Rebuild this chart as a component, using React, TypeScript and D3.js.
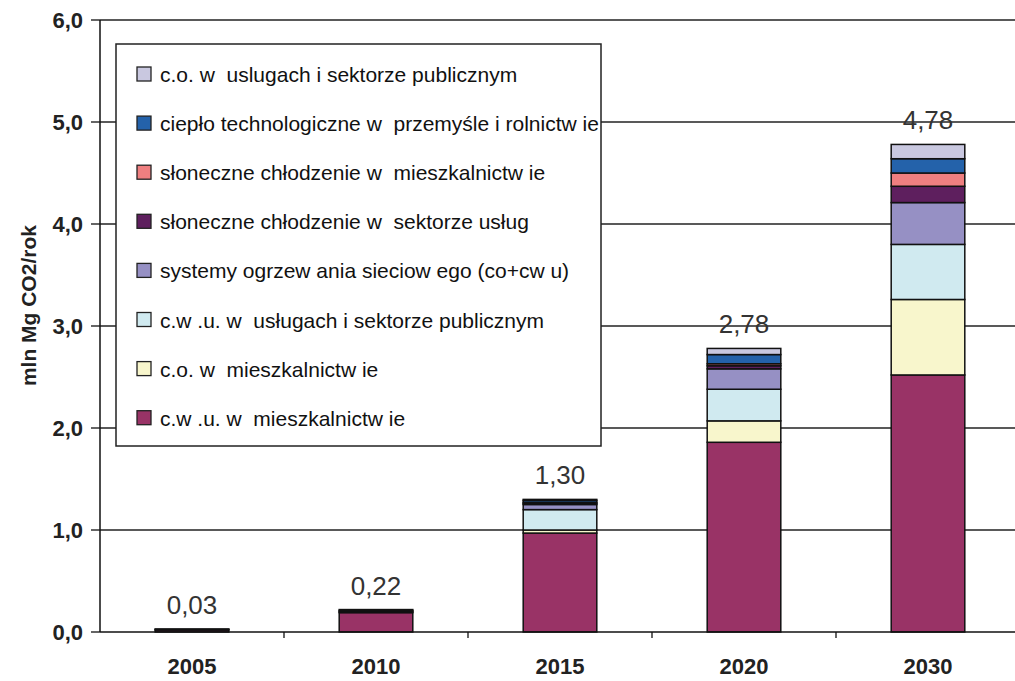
import React from 'react';
import * as d3 from 'd3';

const years = ['2005', '2010', '2015', '2020', '2030'];

// stacked bottom -> top
const seriesNames = [
  'c.w .u. w  mieszkalnictw ie',
  'c.o. w  mieszkalnictw ie',
  'c.w .u. w  usługach i sektorze publicznym',
  'systemy ogrzew ania sieciow ego (co+cw u)',
  'słoneczne chłodzenie w  sektorze usług',
  'słoneczne chłodzenie w  mieszkalnictw ie',
  'ciepło technologiczne w  przemyśle i rolnictw ie',
  'c.o. w  uslugach i sektorze publicznym',
];
const seriesColors = ['#993366', '#f8f6cc', '#d0eaf0', '#9690c4', '#5e1f5e', '#ef7f80', '#2462aa', '#c9c8e0'];

const cwuMieszk = [0.02, 0.19, 0.97, 1.86, 2.52];
const coMieszk = [0.005, 0.01, 0.03, 0.21, 0.74];
const cwuUslugi = [0.005, 0.01, 0.2, 0.31, 0.54];
const systemy = [0, 0.01, 0.05, 0.2, 0.41];
const chlodzUslugi = [0, 0, 0.01, 0.03, 0.16];
const chlodzMieszk = [0, 0, 0.01, 0.02, 0.13];
const cieploTech = [0, 0, 0.02, 0.09, 0.14];
const coUslugi = [0, 0, 0.01, 0.06, 0.14];

const totalLabels = ['0,03', '0,22', '1,30', '2,78', '4,78'];
const yTicks = [0, 1, 2, 3, 4, 5, 6];

const W = 1015;
const H = 681;
const margin = { top: 20, right: -5, bottom: 49, left: 100 };

export default function App() {
  const seriesValues = [cwuMieszk, coMieszk, cwuUslugi, systemy, chlodzUslugi, chlodzMieszk, cieploTech, coUslugi];
  const rows = years.map((y, i) => {
    const r: Record<string, any> = { year: y };
    seriesNames.forEach((s, k) => (r[s] = seriesValues[k][i]));
    return r;
  });
  const stacked = d3.stack<any>().keys(seriesNames)(rows);

  const x = d3.scaleBand().domain(years).range([margin.left, W - margin.right]).paddingInner(0.6).paddingOuter(0.3);
  const y = d3.scaleLinear().domain([0, 6]).range([H - margin.bottom, margin.top]);
  const band = d3.scaleBand().domain(years).range([margin.left, W - margin.right]);
  const totals = years.map((_, i) => d3.sum(seriesValues, (s) => s[i]));

  const font = '"Liberation Sans", Arial, sans-serif';
  const legendX = 116;
  const legendY = 44;
  const legendRow = 49.1;

  return (
    <svg width={W} height={H} style={{ position: 'absolute', left: 0, top: 0, background: '#fff' }} fontFamily={font}>
      {/* gridlines */}
      {yTicks.filter((t) => t > 0).map((t) => (
        <line key={t} x1={margin.left} x2={W} y1={y(t)} y2={y(t)} stroke="#222" strokeWidth={1.3} />
      ))}
      {/* bars */}
      {stacked.map((s, k) => (
        <g key={s.key} fill={seriesColors[k]} stroke="#111" strokeWidth={1.5}>
          {s.map((d, i) =>
            d[1] - d[0] > 0 ? (
              <rect key={i} x={x(years[i])} width={x.bandwidth()} y={y(d[1])} height={y(d[0]) - y(d[1])} />
            ) : null
          )}
        </g>
      ))}
      {/* totals */}
      {years.map((yr, i) => (
        <text key={yr} x={x(yr)! + x.bandwidth() / 2} y={y(totals[i]) - 15} textAnchor="middle" fontSize={26} fill="#333">
          {totalLabels[i]}
        </text>
      ))}
      {/* axes */}
      <line x1={margin.left} x2={margin.left} y1={y(6)} y2={y(0)} stroke="#111" strokeWidth={1.5} />
      <line x1={margin.left} x2={W} y1={y(0)} y2={y(0)} stroke="#111" strokeWidth={1.5} />
      {yTicks.map((t) => (
        <g key={t}>
          <line x1={margin.left - 9} x2={margin.left} y1={y(t)} y2={y(t)} stroke="#111" strokeWidth={1.3} />
          <text x={83} y={y(t) + 8} textAnchor="end" fontSize={22} fontWeight="bold" fill="#222">
            {d3.format('.1f')(t).replace('.', ',')}
          </text>
        </g>
      ))}
      {years.slice(1).map((yr) => (
        <line key={yr} x1={band(yr)} x2={band(yr)} y1={y(0)} y2={y(0) + 6} stroke="#111" strokeWidth={1.3} />
      ))}
      {years.map((yr) => (
        <text key={yr} x={x(yr)! + x.bandwidth() / 2} y={674} textAnchor="middle" fontSize={22} fontWeight="bold" fill="#222">
          {yr}
        </text>
      ))}
      <text transform={`translate(36,${y(3.2)}) rotate(-90)`} textAnchor="middle" fontSize={21} fontWeight="bold" fill="#222">
        mln Mg CO2/rok
      </text>
      {/* legend */}
      <rect x={legendX} y={legendY} width={485} height={402} fill="#fff" stroke="#222" strokeWidth={1.5} />
      {seriesNames.slice().reverse().map((name, j) => {
        const k = seriesNames.length - 1 - j;
        const cy = legendY + 30 + j * legendRow;
        return (
          <g key={name}>
            <rect x={137} y={cy - 7} width={14} height={14} fill={seriesColors[k]} stroke="#222" strokeWidth={1.3} />
            <text x={160} y={cy + 8} fontSize={21} fill="#111" style={{ whiteSpace: 'pre' }}>
              {name}
            </text>
          </g>
        );
      })}
    </svg>
  );
}
